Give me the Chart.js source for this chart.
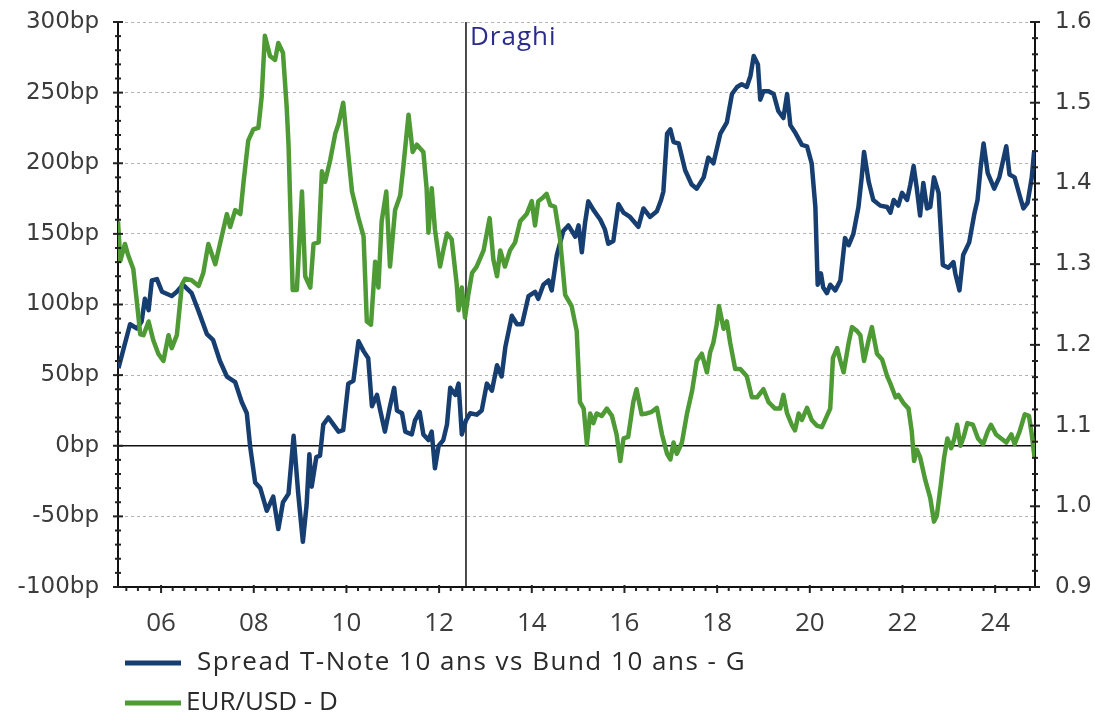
<!DOCTYPE html>
<html>
<head>
<meta charset="utf-8">
<title>Spread T-Note / Bund vs EUR/USD</title>
<script src="https://cdn.jsdelivr.net/npm/chart.js@4.4.1/dist/chart.umd.min.js"></script>
<style>
  html, body { margin: 0; padding: 0; background: #fff; }
</style>
</head>
<body>
<canvas id="myChart" width="1095" height="718"></canvas>
<script>
// x range and labelled years (decimal years)
const xMin = 2005.07;
const xMax = 2024.86;
const yearTicks = [2006, 2008, 2010, 2012, 2014, 2016, 2018, 2020, 2022, 2024];
const draghiYear = 2012.58;

// Spread T-Note 10 ans vs Bund 10 ans (bp) - left axis
const spreadYears = [
  2005.08,2005.33,2005.48,2005.58,2005.65,2005.73,2005.80,2005.91,2006.02,2006.23,
  2006.34,2006.47,2006.66,2006.80,2006.99,2007.12,2007.27,2007.42,2007.60,2007.74,
  2007.85,2007.92,2008.03,2008.14,2008.28,2008.42,2008.53,2008.63,2008.75,2008.86,
  2008.96,2009.06,2009.14,2009.20,2009.25,2009.35,2009.43,2009.50,2009.61,2009.72,
  2009.83,2009.93,2010.04,2010.15,2010.26,2010.37,2010.47,2010.55,2010.66,2010.73,
  2010.83,2010.94,2011.03,2011.09,2011.20,2011.27,2011.41,2011.48,2011.58,2011.66,
  2011.77,2011.84,2011.91,2011.99,2012.09,2012.17,2012.24,2012.35,2012.42,2012.49,
  2012.58,2012.67,2012.81,2012.92,2013.03,2013.14,2013.25,2013.35,2013.43,2013.57,
  2013.68,2013.79,2013.93,2014.07,2014.14,2014.25,2014.36,2014.43,2014.54,2014.68,
  2014.79,2014.94,2015.01,2015.08,2015.15,2015.22,2015.33,2015.48,2015.58,2015.65,
  2015.76,2015.87,2015.98,2016.12,2016.30,2016.41,2016.55,2016.70,2016.79,2016.84,
  2016.92,2016.99,2017.06,2017.17,2017.31,2017.45,2017.56,2017.71,2017.81,2017.92,
  2018.07,2018.21,2018.32,2018.43,2018.53,2018.64,2018.72,2018.79,2018.88,2018.93,
  2019.00,2019.11,2019.22,2019.32,2019.43,2019.51,2019.58,2019.68,2019.83,2019.94,
  2020.04,2020.12,2020.17,2020.24,2020.29,2020.37,2020.44,2020.55,2020.66,2020.76,
  2020.84,2020.94,2021.05,2021.12,2021.17,2021.27,2021.37,2021.52,2021.67,2021.74,
  2021.81,2021.91,2021.99,2022.10,2022.17,2022.24,2022.31,2022.38,2022.45,2022.53,
  2022.60,2022.68,2022.78,2022.87,2022.99,2023.10,2023.14,2023.23,2023.31,2023.44,
  2023.55,2023.62,2023.69,2023.75,2023.84,2023.98,2024.09,2024.24,2024.31,2024.42,
  2024.53,2024.61,2024.70,2024.79,2024.84
];
const spreadBp = [
  55,86,83,88,104,96,117,118,109,106,
  109,114,108,96,79,75,60,49,45,31,
  23,0,-26,-30,-46,-36,-59,-40,-34,7,
  -34,-68,-42,-6,-29,-8,-7,15,20,15,
  10,11,44,46,74,67,62,28,36,25,
  10,28,41,25,23,10,8,18,24,8,
  4,10,-16,0,4,15,41,36,44,8,
  18,23,22,25,44,39,57,49,70,92,
  86,86,106,109,104,114,117,110,135,152,
  156,148,156,137,158,173,167,160,153,143,
  145,171,165,162,155,168,162,166,174,180,
  221,224,215,214,195,185,182,190,204,200,
  221,229,249,254,256,254,262,276,270,245,
  251,251,249,237,232,249,227,222,213,212,
  200,169,114,122,112,108,114,110,117,147,
  142,150,169,190,208,187,174,170,169,165,
  174,170,179,174,185,198,182,163,186,168,
  169,190,179,128,126,130,122,110,135,144,
  164,174,198,214,193,182,190,212,192,190,
  177,168,172,190,208
];

// EUR/USD - right axis
const eurYears = [
  2005.07,2005.12,2005.22,2005.29,2005.40,2005.48,2005.55,2005.62,2005.73,2005.83,
  2005.94,2006.05,2006.16,2006.23,2006.34,2006.45,2006.52,2006.66,2006.81,2006.91,
  2007.02,2007.17,2007.27,2007.42,2007.49,2007.60,2007.71,2007.78,2007.88,2007.99,
  2008.10,2008.17,2008.24,2008.35,2008.46,2008.53,2008.63,2008.71,2008.75,2008.84,
  2008.93,2009.04,2009.11,2009.22,2009.29,2009.40,2009.47,2009.54,2009.65,2009.76,
  2009.83,2009.93,2010.01,2010.12,2010.26,2010.37,2010.44,2010.53,2010.62,2010.69,
  2010.76,2010.86,2010.94,2011.05,2011.16,2011.23,2011.34,2011.43,2011.52,2011.66,
  2011.73,2011.77,2011.84,2011.91,2012.02,2012.09,2012.17,2012.27,2012.38,2012.42,
  2012.49,2012.56,2012.63,2012.71,2012.81,2012.96,2013.09,2013.17,2013.25,2013.32,
  2013.42,2013.53,2013.64,2013.75,2013.89,2014.00,2014.07,2014.14,2014.25,2014.32,
  2014.40,2014.50,2014.61,2014.72,2014.86,2014.97,2015.04,2015.12,2015.19,2015.26,
  2015.33,2015.40,2015.51,2015.62,2015.73,2015.83,2015.91,2015.98,2016.08,2016.19,
  2016.26,2016.37,2016.48,2016.59,2016.70,2016.81,2016.92,2016.99,2017.06,2017.13,
  2017.24,2017.35,2017.46,2017.56,2017.67,2017.78,2017.85,2017.92,2017.99,2018.04,
  2018.14,2018.21,2018.28,2018.39,2018.50,2018.64,2018.75,2018.86,2019.00,2019.11,
  2019.25,2019.36,2019.43,2019.51,2019.61,2019.68,2019.76,2019.83,2019.94,2020.04,
  2020.15,2020.26,2020.37,2020.44,2020.50,2020.59,2020.66,2020.73,2020.84,2020.91,
  2021.02,2021.09,2021.17,2021.27,2021.34,2021.45,2021.56,2021.67,2021.74,2021.85,
  2021.91,2022.02,2022.13,2022.20,2022.25,2022.31,2022.38,2022.49,2022.60,2022.68,
  2022.74,2022.83,2022.90,2022.97,2023.05,2023.12,2023.18,2023.25,2023.32,2023.40,
  2023.52,2023.63,2023.74,2023.84,2023.91,2024.02,2024.13,2024.24,2024.35,2024.42,
  2024.53,2024.64,2024.73,2024.79,2024.85
];
const eurUsd = [
  1.353,1.304,1.325,1.311,1.294,1.252,1.213,1.212,1.229,1.206,
  1.189,1.180,1.212,1.196,1.212,1.275,1.282,1.280,1.273,1.289,
  1.325,1.300,1.325,1.362,1.346,1.367,1.362,1.402,1.453,1.467,
  1.469,1.507,1.583,1.558,1.553,1.574,1.562,1.495,1.448,1.268,
  1.268,1.390,1.285,1.271,1.325,1.327,1.415,1.402,1.429,1.462,
  1.474,1.500,1.453,1.390,1.357,1.334,1.229,1.225,1.303,1.271,
  1.353,1.390,1.297,1.367,1.385,1.422,1.485,1.439,1.448,1.439,
  1.394,1.339,1.394,1.343,1.297,1.317,1.338,1.331,1.275,1.243,
  1.271,1.234,1.262,1.289,1.297,1.317,1.357,1.306,1.285,1.317,
  1.297,1.317,1.327,1.353,1.362,1.378,1.348,1.378,1.383,1.387,
  1.373,1.371,1.331,1.262,1.248,1.217,1.129,1.121,1.077,1.115,
  1.103,1.115,1.112,1.121,1.112,1.089,1.056,1.084,1.086,1.129,
  1.145,1.114,1.115,1.117,1.122,1.089,1.065,1.058,1.079,1.065,
  1.079,1.115,1.143,1.180,1.189,1.166,1.191,1.203,1.225,1.248,
  1.220,1.229,1.203,1.170,1.170,1.161,1.135,1.135,1.145,1.129,
  1.121,1.121,1.138,1.115,1.101,1.094,1.115,1.107,1.122,1.107,
  1.100,1.098,1.112,1.121,1.184,1.196,1.180,1.166,1.203,1.222,
  1.217,1.212,1.180,1.206,1.222,1.189,1.182,1.161,1.152,1.135,
  1.138,1.128,1.121,1.093,1.056,1.070,1.061,1.033,1.010,0.981,
  0.988,1.028,1.061,1.084,1.072,1.084,1.101,1.075,1.086,1.103,
  1.101,1.084,1.077,1.093,1.101,1.089,1.084,1.079,1.089,1.077,
  1.093,1.114,1.112,1.089,1.061
];

const BLUE = '#173e70';
const GREEN = '#4e9a35';

function pairs(xs, ys) {
    return xs.map((x, i) => ({ x: x, y: ys[i] }));
}

// tick marks (major + minor) crossing the axis lines
const tickMarks = {
    id: 'tickMarks',
    afterDraw(chart) {
        const ctx = chart.ctx;
        const x = chart.scales.x, yL = chart.scales.yL, yR = chart.scales.yR;
        ctx.save();
        ctx.strokeStyle = '#222';
        function seg(x1, y1, x2, y2, w) {
            ctx.lineWidth = w;
            ctx.beginPath(); ctx.moveTo(x1, y1); ctx.lineTo(x2, y2); ctx.stroke();
        }
        for (let i = 0; i <= 40; i++) {
            const p = yL.getPixelForValue(-100 + i * 10);
            const len = i % 5 === 0 ? 5 : 3;
            seg(yL.right - len, p, yL.right + len, p, 2);
        }
        for (let i = 0; i <= 35; i++) {
            const p = yR.getPixelForValue(0.9 + i * 0.02);
            const len = i % 5 === 0 ? 5 : 3;
            seg(yR.left - len, p, yR.left + len, p, 2);
        }
        for (let q = Math.ceil(xMin * 4); q <= Math.floor(xMax * 4); q++) {
            const p = x.getPixelForValue(q / 4);
            const major = (q % 8 === 0);
            seg(p, x.top - (major ? 2 : 0), p, x.top + (major ? 6 : 4), 2);
        }
        ctx.restore();
    }
};

// "Draghi" annotation next to the vertical line
const draghiLabel = {
    id: 'draghiLabel',
    afterDatasetsDraw(chart) {
        const ctx = chart.ctx;
        const px = chart.scales.x.getPixelForValue(draghiYear);
        ctx.save();
        ctx.font = '26px "Open Sans"';
        ctx.letterSpacing = '1px';
        ctx.fillStyle = '#2b2b8c';
        ctx.textBaseline = 'alphabetic';
        ctx.fillText('Draghi', px + 4, chart.chartArea.top + 23);
        ctx.restore();
    }
};

// legend under the chart, one series per row
const bottomLegend = {
    id: 'bottomLegend',
    afterDraw(chart) {
        const ctx = chart.ctx;
        const items = chart.data.datasets.filter(d => d.inLegend);
        const textX = [197, 186];
        const spacing = ['1.5px', '0px'];
        ctx.save();
        ctx.font = '26px "Open Sans"';
        ctx.textBaseline = 'middle';
        items.forEach((d, i) => {
            const y = 663 + i * 40;
            ctx.strokeStyle = d.borderColor;
            ctx.lineWidth = 5;
            ctx.beginPath(); ctx.moveTo(125, y); ctx.lineTo(181, y); ctx.stroke();
            ctx.letterSpacing = spacing[i];
            ctx.fillStyle = '#2a2a2a';
            ctx.fillText(d.label, textX[i], y);
        });
        ctx.restore();
    }
};

const config = {
    type: 'line',
    data: {
        datasets: [
            {
                label: 'Spread T-Note 10 ans vs Bund 10 ans - G',
                inLegend: true,
                data: pairs(spreadYears, spreadBp),
                yAxisID: 'yL',
                borderColor: BLUE,
                borderWidth: 4.5,
                pointRadius: 0,
                tension: 0,
                borderJoinStyle: 'round',
                order: 2
            },
            {
                label: 'EUR/USD - D',
                inLegend: true,
                data: pairs(eurYears, eurUsd),
                yAxisID: 'yR',
                borderColor: GREEN,
                borderWidth: 4.5,
                pointRadius: 0,
                tension: 0,
                borderJoinStyle: 'round',
                order: 1
            },
            {
                label: 'zero',
                data: [{ x: xMin, y: 0 }, { x: xMax, y: 0 }],
                yAxisID: 'yL',
                borderColor: '#111',
                borderWidth: 1.5,
                pointRadius: 0,
                order: 4
            },
            {
                label: 'Draghi',
                data: [{ x: draghiYear, y: -100 }, { x: draghiYear, y: 300 }],
                yAxisID: 'yL',
                borderColor: '#111',
                borderWidth: 1.5,
                pointRadius: 0,
                order: 3
            }
        ]
    },
    options: {
        responsive: false,
        animation: false,
        layout: { padding: { top: 22, left: 0, right: 0, bottom: 76 } },
        plugins: {
            legend: { display: false },
            tooltip: { enabled: false }
        },
        scales: {
            x: {
                type: 'linear',
                min: xMin,
                max: xMax,
                afterBuildTicks: s => { s.ticks = yearTicks.map(v => ({ value: v })); },
                afterFit: s => { s.height = 55; },
                ticks: {
                    autoSkip: false,
                    maxRotation: 0,
                    padding: 21,
                    color: '#3c3c3c',
                    font: { family: 'Open Sans', size: 26 },
                    callback: v => String(v).slice(2)
                },
                grid: { display: false, drawTicks: false },
                border: { display: true, color: '#111', width: 2 }
            },
            yL: {
                position: 'left',
                min: -100,
                max: 300,
                afterFit: s => { s.width = 118; },
                ticks: {
                    stepSize: 50,
                    padding: 0,
                    color: '#3c3c3c',
                    font: { family: 'DejaVu Sans', size: 23 },
                    callback: v => v + 'bp'
                },
                grid: {
                    drawTicks: true,
                    tickLength: 19,
                    tickColor: 'rgba(0,0,0,0)',
                    lineWidth: 1,
                    color: c => (c.tick && (c.tick.value === 0 || c.tick.value === -100)) ? 'rgba(0,0,0,0)' : '#b4b4b4'
                },
                border: { display: true, color: '#111', width: 2, dash: [3, 3] }
            },
            yR: {
                position: 'right',
                min: 0.9,
                max: 1.6,
                afterFit: s => { s.width = 60; },
                ticks: {
                    stepSize: 0.1,
                    padding: 0,
                    color: '#3c3c3c',
                    font: { family: 'DejaVu Sans', size: 23 },
                    callback: v => Number(v).toFixed(1)
                },
                grid: {
                    drawOnChartArea: false,
                    drawTicks: true,
                    tickLength: 20,
                    tickColor: 'rgba(0,0,0,0)'
                },
                border: { display: true, color: '#111', width: 2 }
            }
        }
    },
    plugins: [tickMarks, draghiLabel, bottomLegend]
};

var myChart = new Chart(document.getElementById('myChart'), config);
</script>
</body>
</html>
